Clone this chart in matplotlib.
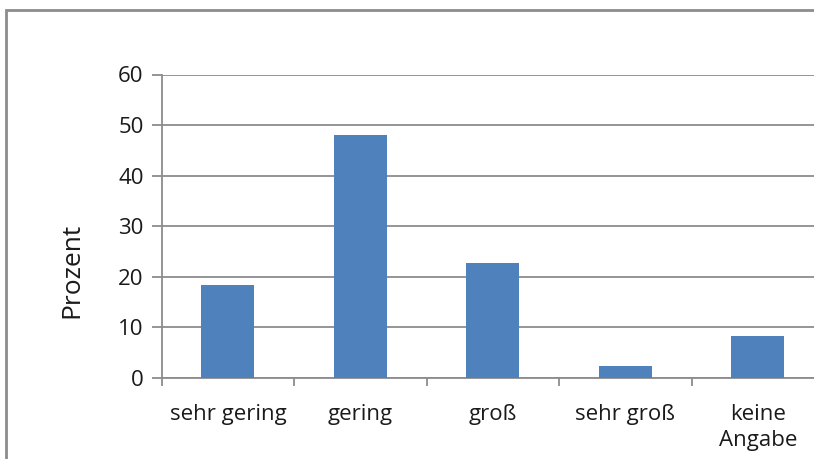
import matplotlib.pyplot as plt
import matplotlib.patches as patches
import numpy as np

categories = ['sehr gering', 'gering', 'groß', 'sehr groß', 'keine\nAngabe']
values = [18.4, 48.1, 22.6, 2.4, 8.3]
yticks = [0, 10, 20, 30, 40, 50, 60]

plt.rcParams['font.family'] = ['Open Sans', 'DejaVu Sans']

W, H = 814, 459
fig = plt.figure(figsize=(W / 100, H / 100), dpi=100)

# outer chart frame (cropped on the right and bottom)
fig.patches.append(patches.Rectangle((6 / W, -0.1), 1.2, 1 - 10 / H + 0.1,
                                     transform=fig.transFigure, fill=False,
                                     edgecolor='#8c8c8c', linewidth=2))

left, right = 161.7, 824
top, bottom = 74.5, 377.7
ax = fig.add_axes([left / W, 1 - bottom / H, (right - left) / W, (bottom - top) / H])

x = np.arange(len(categories))
ax.bar(x, values, width=0.4, color='#4F81BD', zorder=3)

ax.set_xlim(-0.5, len(categories) - 0.5)
ax.set_ylim(0, 60)
ax.set_yticks(yticks)
ax.set_yticklabels([str(t) for t in yticks], fontsize=16, color='#1a1a1a')
ax.yaxis.grid(True, color='#8c8c8c', linewidth=1.3, zorder=0)

ax.set_xticks(np.arange(len(categories) + 1) - 0.5)
ax.set_xticklabels([])
ax.set_xticks(x, minor=True)
ax.set_xticklabels(categories, minor=True, fontsize=16, color='#1a1a1a',
                   linespacing=1.3)
ax.tick_params(axis='x', which='minor', length=0, pad=19)
ax.tick_params(axis='x', which='major', length=6, width=1.3, color='#8c8c8c')
ax.tick_params(axis='y', length=7, width=1.3, color='#8c8c8c', pad=6)

for s in ['top', 'right']:
    ax.spines[s].set_visible(False)
for s in ['left', 'bottom']:
    ax.spines[s].set_color('#8c8c8c')
    ax.spines[s].set_linewidth(1.3)

fig.text(72 / W, 1 - 270 / H, 'Prozent', rotation=90, ha='center', va='center',
         fontsize=19, color='#1a1a1a')

fig.savefig('out.png', dpi=100)
